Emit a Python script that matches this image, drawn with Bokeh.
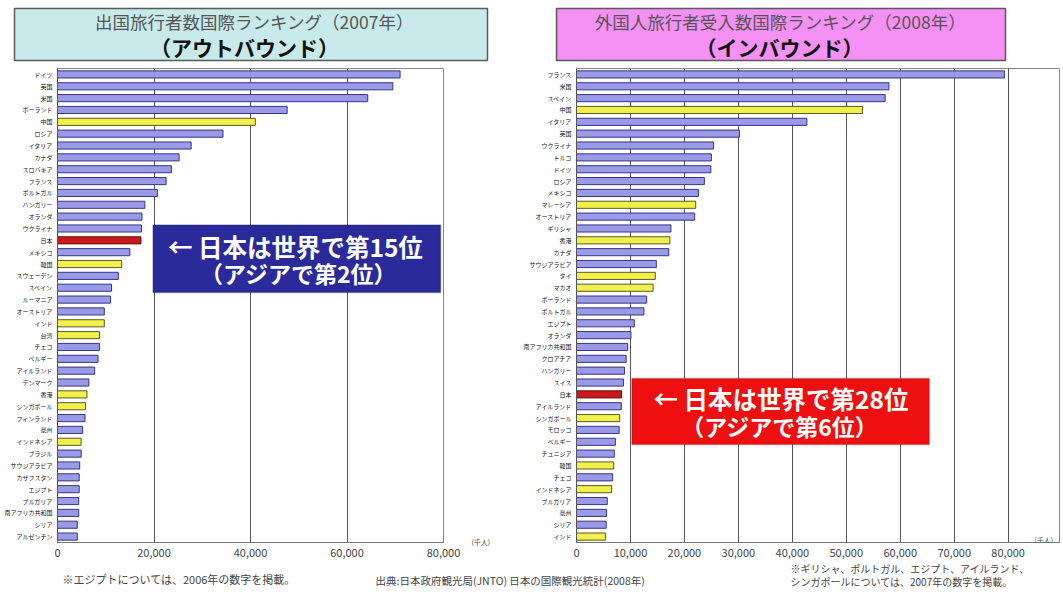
from bokeh.plotting import figure
from bokeh.models import (Range1d, FixedTicker, NumeralTickFormatter,
                          BoxAnnotation, Label, ColumnDataSource, LinearAxis)
from bokeh.layouts import column, row
from bokeh.embed import file_html
from bokeh.resources import INLINE
from bokeh.core.properties import value

FONT = "Noto Sans CJK JP"

# ---------------- data ----------------
out_title1 = "出国旅行者数国際ランキング（2007年）"
out_title2 = "（アウトバウンド）"
out_countries = ["ドイツ", "英国", "米国", "ポーランド", "中国", "ロシア", "イタリア", "カナダ",
                 "スロバキア", "フランス", "ポルトガル", "ハンガリー", "オランダ", "ウクライナ", "日本",
                 "メキシコ", "韓国", "スウェーデン", "スペイン", "ルーマニア", "オーストリア", "インド",
                 "台湾", "チェコ", "ベルギー", "アイルランド", "デンマーク", "香港", "シンガポール",
                 "フィンランド", "豪州", "インドネシア", "ブラジル", "サウジアラビア", "カザフスタン",
                 "エジプト", "ブルガリア", "南アフリカ共和国", "シリア", "アルゼンチン"]
out_values = [71000, 69500, 64300, 47600, 41000, 34300, 27700, 25200,
              23600, 22500, 20700, 18100, 17500, 17400, 17300,
              15000, 13300, 12600, 11200, 11000, 9700, 9700,
              8700, 8700, 8400, 7700, 6500, 6100, 5800,
              5700, 5200, 4900, 4900, 4600, 4500,
              4500, 4400, 4400, 4100, 4100]
out_asia = ["中国", "韓国", "インド", "台湾", "香港", "シンガポール", "インドネシア"]
out_ticks = [0, 20000, 40000, 60000, 80000]

in_title1 = "外国人旅行者受入数国際ランキング（2008年）"
in_title2 = "（インバウンド）"
in_countries = ["フランス", "米国", "スペイン", "中国", "イタリア", "英国", "ウクライナ", "トルコ",
                "ドイツ", "ロシア", "メキシコ", "マレーシア", "オーストリア", "ギリシャ", "香港",
                "カナダ", "サウジアラビア", "タイ", "マカオ", "ポーランド", "ポルトガル", "エジプト",
                "オランダ", "南アフリカ共和国", "クロアチア", "ハンガリー", "スイス", "日本",
                "アイルランド", "シンガポール", "モロッコ", "ベルギー", "チュニジア", "韓国", "チェコ",
                "インドネシア", "ブルガリア", "豪州", "シリア", "インド"]
in_values = [79300, 57900, 57200, 53000, 42700, 30200, 25400, 25000,
             24900, 23700, 22600, 22100, 21900, 17500, 17300,
             17100, 14800, 14600, 14200, 13000, 12500, 10700,
             10100, 9500, 9200, 8900, 8700, 8350,
             8300, 8000, 7900, 7200, 7000, 6900, 6700,
             6500, 5700, 5550, 5500, 5400]
in_asia = ["中国", "マレーシア", "香港", "タイ", "マカオ", "シンガポール", "韓国", "インドネシア", "インド"]
in_ticks = [0, 10000, 20000, 30000, 40000, 50000, 60000, 70000, 80000, 90000]

out_note = "※エジプトについては、2006年の数字を掲載。"
source_note = "出典:日本政府観光局(JNTO)  日本の国際観光統計(2008年)"
in_note1 = "※ギリシャ、ポルトガル、エジプト、アイルランド、"
in_note2 = "シンガポールについては、2007年の数字を掲載。"
out_callout = ["← 日本は世界で第15位", "（アジアで第2位）"]
in_callout = ["← 日本は世界で第28位", "（アジアで第6位）"]
unit_label = "(千人)"

# ---------------- helpers ----------------
BLUE_F, BLUE_L = "#9a9ae8", "#363684"
YEL_F, YEL_L = "#f2f04a", "#5a5a2a"
RED_F, RED_L = "#cc1818", "#661010"


def deco_fig(w, h, y0):
    p = figure(width=w, height=h, x_range=Range1d(0, w), y_range=Range1d(y0 + h, y0),
               output_backend="svg", toolbar_location=None, min_border=0)
    p.axis.visible = False
    p.grid.visible = False
    p.outline_line_color = None
    return p


def chart(cats, vals, asia, xmax, ticks, width, mleft, mright):
    n = len(cats)
    pos = list(range(n - 1, -1, -1))          # first category at the top
    p = figure(width=width, height=498,
               y_range=Range1d(-0.5, n - 0.5),
               x_range=Range1d(0, xmax),
               output_backend="svg", toolbar_location=None,
               min_border_left=mleft, min_border_right=mright,
               min_border_top=4, min_border_bottom=20)
    fills, lines = [], []
    for c in cats:
        if c == "日本":
            fills.append(RED_F); lines.append(RED_L)
        elif c in asia:
            fills.append(YEL_F); lines.append(YEL_L)
        else:
            fills.append(BLUE_F); lines.append(BLUE_L)
    src = ColumnDataSource(dict(cat=cats, pos=pos, val=vals, fill=fills, line=lines))
    p.hbar(y="pos", left=0, right="val", height=0.6, fill_color="fill",
           line_color="line", line_width=1, source=src)
    p.ygrid.visible = False
    p.xgrid.grid_line_color = "#555555"
    p.xgrid.grid_line_width = 1
    p.xaxis.ticker = FixedTicker(ticks=ticks)
    p.xaxis.formatter = NumeralTickFormatter(format="0,0")
    p.yaxis.ticker = FixedTicker(ticks=pos)
    p.yaxis.major_label_overrides = {k: c for k, c in zip(pos, cats)}
    p.axis.major_tick_out = 0
    p.axis.major_tick_in = 0
    p.axis.minor_tick_out = 0
    p.axis.minor_tick_in = 0
    p.axis.major_tick_line_color = None
    p.axis.minor_tick_line_color = None
    p.xaxis.axis_line_color = "#777777"
    p.xaxis.major_label_text_font = FONT
    p.xaxis.major_label_text_font_size = "11px"
    p.xaxis.major_label_text_color = "#444444"
    p.xaxis.major_label_standoff = 6
    p.yaxis.axis_line_color = "#555555"
    p.yaxis.major_label_text_font = FONT
    p.yaxis.major_label_text_font_size = "6px"
    p.yaxis.major_label_text_color = "#111111"
    p.yaxis.major_label_standoff = 5
    p.outline_line_color = "#888888"
    return p


# ---------------- top titles ----------------
top = deco_fig(1060, 64, 0)
top.quad(left=[14, 556], right=[487, 1005], top=[8, 8], bottom=[60, 60],
         fill_color=["#c8eaea", "#f590f5"], line_color="#5a5a5a", line_width=1.5)
top.text(x=[254, 780], y=[21, 21], text=[out_title1, in_title1], text_font=value(FONT),
         text_font_size="17.5px", text_color="#555555", text_align="center", text_baseline="middle")
top.text(x=[244, 779], y=[46, 46], text=[out_title2, in_title2], text_font=value(FONT),
         text_font_size="21px", text_font_style="bold", text_color="#111111",
         text_align="center", text_baseline="middle")

# ---------------- charts ----------------
left = chart(out_countries, out_values, out_asia, 80000, out_ticks, 520, 57, 77)
right = chart(in_countries, in_values, in_asia, 89700, in_ticks, 540, 50, 0)

left.add_layout(BoxAnnotation(left=19800, right=79400, top=26.3, bottom=20.6,
                              fill_color="#2a2a9a", fill_alpha=1, line_color="#15154f", line_width=1.5))
left.add_layout(Label(x=49300, y=24.5, text=out_callout[0], text_font=FONT, text_font_size="24.5px",
                      text_font_style="bold", text_color="white", text_align="center",
                      text_baseline="middle"))
left.add_layout(Label(x=50000, y=22.25, text=out_callout[1], text_font=FONT, text_font_size="23px",
                      text_font_style="bold", text_color="white", text_align="center",
                      text_baseline="middle"))

# unit label of the left chart: an extra right-hand axis carrying a single labelled tick
left.extra_y_ranges = {"unit": Range1d(0, 474)}
unit_axis = LinearAxis(y_range_name="unit", ticker=FixedTicker(ticks=[1]),
                       major_label_overrides={1: unit_label})
unit_axis.axis_line_color = None
unit_axis.major_tick_line_color = None
unit_axis.minor_tick_line_color = None
unit_axis.major_tick_out = 0
unit_axis.major_label_standoff = 28
unit_axis.major_label_text_font = FONT
unit_axis.major_label_text_font_size = "7px"
unit_axis.major_label_text_color = "#444444"
left.add_layout(unit_axis, "right")

right.add_layout(BoxAnnotation(left=10260, right=65380, top=13.34, bottom=7.77,
                               fill_color="#ee1010", fill_alpha=1, line_color="#8a0a0a", line_width=1.5))
right.add_layout(Label(x=37900, y=11.65, text=in_callout[0], text_font=FONT, text_font_size="24.5px",
                       text_font_style="bold", text_color="white", text_align="center",
                       text_baseline="middle"))
right.add_layout(Label(x=37700, y=9.35, text=in_callout[1], text_font=FONT, text_font_size="23px",
                       text_font_style="bold", text_color="white", text_align="center",
                       text_baseline="middle"))
right.add_layout(Label(x=86600, y=3, y_units="screen", text=unit_label, text_font=FONT,
                       text_font_size="7px", text_color="#444444", text_align="center",
                       text_baseline="middle"))

# ---------------- bottom notes ----------------
bottom = deco_fig(1060, 28, 562)
bottom.text(x=[62], y=[578], text=[out_note], text_font=value(FONT), text_font_size="11px",
            text_color="#444444", text_align="left", text_baseline="middle")
bottom.text(x=[375], y=[580], text=[source_note], text_font=value(FONT), text_font_size="10.5px",
            text_color="#444444", text_align="left", text_baseline="middle")
bottom.text(x=[790, 790], y=[568, 581], text=[in_note1, in_note2], text_font=value(FONT),
            text_font_size="10px", text_color="#444444", text_align="left", text_baseline="middle")

page = column(top, row(left, right), bottom)
open("out.html", "w").write(file_html(page, INLINE))
